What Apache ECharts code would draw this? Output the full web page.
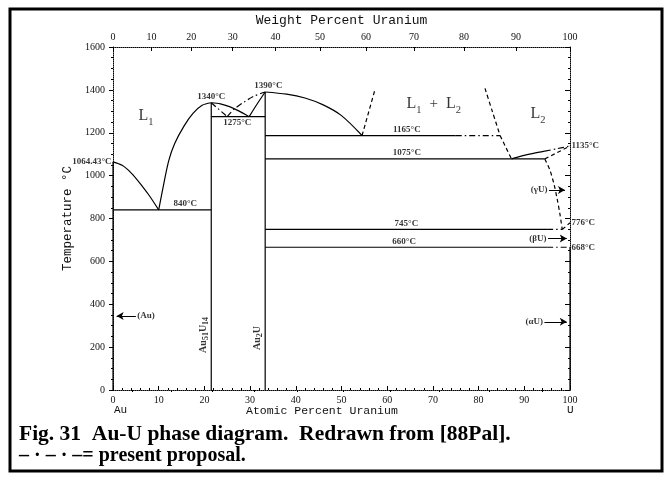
<!DOCTYPE html>
<html><head><meta charset="utf-8">
<script src="https://cdn.jsdelivr.net/npm/echarts@6/dist/echarts.min.js"></script>
<style>html,body{margin:0;padding:0;background:#fff}#c{width:668px;height:480px}</style>
</head><body><div id="c"></div>
<script>
// ---------- data ----------
const tempTicks = [0, 200, 400, 600, 800, 1000, 1200, 1400, 1600];
const atomicTicks = [0, 10, 20, 30, 40, 50, 60, 70, 80, 90, 100];
const weightTicks = [0, 10, 20, 30, 40, 50, 60, 70, 80, 90, 100];
const weightMinorTicks = [5, 15, 25, 35, 45, 55, 65, 75, 85, 95];
const M_U = 238.03, M_AU = 196.97;

// solid boundaries [88Pal]
const auLiquidus = [[0,1064.43],[2,1048],[4,1012],[6,962],[8,905],[10,840]];
const au51U14Liquidus = [[10,840],[11,950],[12.2,1070],[13.5,1150],[15.5,1230],[17.5,1290],[19.5,1328],[21.5,1340]];
const eutectic840 = [[0,840],[21.5,840]];
const au51U14Line = [[21.5,0],[21.5,1340]];
const eutectic1275 = [[21.5,1275],[33.3,1275]];
const palLiquidusA = [[21.5,1340],[23.5,1335],[25.5,1322],[27.5,1302],[29.8,1275]];
const palLiquidusB = [[29.8,1275],[31.5,1333],[33.3,1390]];
const au2ULine = [[33.3,0],[33.3,1390]];
const au2ULiquidus = [[33.3,1390],[38,1380],[42,1362],[46,1330],[50,1280],[54.5,1187]];
const monotectic = [[33.3,1187],[75,1187]];
const eutectic1075 = [[33.3,1078],[94.5,1078]];
const l2Liquidus = [[87.2,1078],[89.5,1092],[92,1104],[94.5,1114]];
const eutectoid745 = [[33.3,749],[95,749]];
const line660 = [[33.3,666],[95,666]];
const pureAu = [[0,0],[0,1064.43]];
const pureU = [[100,0],[100,666]];
// dashed boundaries
const gapLeft = [[54.5,1187],[57.4,1407]];
const gapRight = [[81.4,1407],[83,1300],[84.7,1187]];
const l2Descent = [[84.7,1187],[87.2,1078]];
const gammaSolidus = [[94.5,1078],[100,1138]];
const gammaSolvus = [[94.5,1078],[95.6,1026],[96.5,960],[97.2,890],[97.8,820],[98.3,749]];
const gammaBeta = [[98.3,749],[100,780]];
// dash-dot: present proposal
const propLiquidusA = [[21.5,1340],[25,1275]];
const propLiquidusB = [[25,1275],[26.5,1310],[28.8,1345],[31,1372],[33.3,1390]];
const propMonotectic = [[75,1187],[84.7,1187]];
const propL2Liquidus = [[94.5,1114],[97,1125],[100,1138]];
const prop745 = [[95,749],[98.3,749]];
const prop660 = [[95,666],[100,666]];

// annotations
const tempLabels = ['1064.43°C','840°C','1340°C','1275°C','1390°C','1165°C','1075°C','745°C','660°C','1135°C','776°C','668°C'];
const tempLabelAnchors = [[0,1064.43],[15.8,840],[21.5,1340],[27.2,1275],[34,1390],[64.3,1187],[64.3,1078],[64.2,749],[63.7,666],[100,1138],[100,780],[100,666]];
const phaseArrowLabels = ['(Au)','(γU)','(βU)','(αU)'];
const phaseArrowFrom = [[5,345],[95.4,933],[95.2,707],[94.4,318]];
const phaseArrowTo = [[0.8,345],[98.9,933],[99.3,707],[99.3,318]];
const regionLabels = ['L1','L1 + L2','L2'];
const regionAnchors = [[7.2,1269],[70.2,1325],[93,1278]];
const compoundLabels = ['Au51U14','Au2U'];
const compoundAnchors = [[21.5,257],[33.3,243]];

// ---------- chart ----------
const wtToAt = w => { const u = w / M_U, a = (100 - w) / M_AU; return 100 * u / (u + a); };
const atToWt = a => 100 * M_U * a / (M_U * a + M_AU * (100 - a));

const chart = echarts.init(document.getElementById('c'), null, {renderer: 'canvas'});
const BLACK = '#000';
const numFont = {fontFamily: 'Liberation Serif', fontSize: 10, color: '#111'};
const lblFont = {fontFamily: 'Liberation Serif', fontWeight: 'bold', fontSize: 9, color: BLACK};
const DASH = [4, 3];
const DASHDOT = [6, 3, 1.5, 3];

function seg(data, type, width) {
  return {
    type: 'line', data: data, symbol: 'none', silent: true, animation: false,
    smooth: data.length > 2 ? 0.3 : false,
    lineStyle: {color: BLACK, width: width || 1.2, type: type || 'solid'}
  };
}

const series = [
  seg(pureAu), seg(pureU),
  seg(auLiquidus), seg(au51U14Liquidus), seg(eutectic840), seg(au51U14Line),
  seg(eutectic1275), seg(palLiquidusA), seg(palLiquidusB), seg(au2ULine),
  seg(au2ULiquidus), seg(monotectic), seg(eutectic1075), seg(l2Liquidus),
  seg(eutectoid745), seg(line660),
  seg(gapLeft, DASH), seg(gapRight, DASH), seg(l2Descent, DASH),
  seg(gammaSolidus, DASH), seg(gammaSolvus, DASH), seg(gammaBeta, DASH),
  seg(propLiquidusA, DASHDOT), seg(propLiquidusB, DASHDOT), seg(propMonotectic, DASHDOT),
  seg(propL2Liquidus, DASHDOT), seg(prop745, DASHDOT), seg(prop660, DASHDOT)
];

// temperature labels
const tempLabelPos = ['left','top','top','bottom','top','top','top','top','top','right','right','right'];
series.push({
  type: 'scatter', symbolSize: 1, silent: true, animation: false,
  itemStyle: {color: 'rgba(0,0,0,0)'},
  data: tempLabelAnchors.map((p, i) => ({
    value: p,
    label: Object.assign({show: true, position: tempLabelPos[i], distance: 1, formatter: tempLabels[i]}, lblFont)
  }))
});

// arrows to pure-element phases
series.push({
  type: 'line', data: [], silent: true, animation: false,
  markLine: {
    silent: true, animation: false, symbol: ['none', 'arrow'], symbolSize: [6, 7],
    lineStyle: {color: BLACK, width: 1, type: 'solid'}, label: {show: false},
    data: phaseArrowFrom.map((f, i) => [{coord: f}, {coord: phaseArrowTo[i]}])
  }
});
series.push({
  type: 'scatter', symbolSize: 1, silent: true, animation: false,
  itemStyle: {color: 'rgba(0,0,0,0)'},
  data: phaseArrowFrom.map((p, i) => ({
    value: p,
    label: Object.assign({show: true, position: i === 0 ? 'right' : 'left', distance: 1, formatter: phaseArrowLabels[i]}, lblFont)
  }))
});

// phase region labels (with subscripts)
const toRich = s => s.split(' ').map(t => t === '+' ? '{p|+}' : '{b|' + t[0] + '}{s|' + t.slice(1) + '}').join('');
series.push({
  type: 'scatter', symbolSize: 1, silent: true, animation: false,
  itemStyle: {color: 'rgba(0,0,0,0)'},
  data: regionAnchors.map((p, i) => ({
    value: p,
    label: {
      show: true, position: 'inside', formatter: toRich(regionLabels[i]),
      rich: {
        b: {fontFamily: 'Liberation Serif', fontSize: 16, color: BLACK, padding: [0, 0, 4, 0], verticalAlign: 'bottom'},
        s: {fontFamily: 'Liberation Serif', fontSize: 10.5, color: BLACK, verticalAlign: 'bottom'},
        p: {fontFamily: 'Liberation Serif', fontSize: 15, color: BLACK, padding: [0, 8, 4, 8], verticalAlign: 'bottom'}
      }
    }
  }))
});

// compound labels (vertical)
const compRich = s => s.replace(/([A-Za-z]+)(\d*)/g, (m, a, d) => '{t|' + a + '}' + (d ? '{u|' + d + '}' : ''));
series.push({
  type: 'scatter', symbolSize: 1, silent: true, animation: false,
  itemStyle: {color: 'rgba(0,0,0,0)'},
  data: compoundAnchors.map((p, i) => ({
    value: p,
    label: {
      show: true, position: 'inside', rotate: 90, offset: [0, -7], formatter: compRich(compoundLabels[i]),
      rich: {
        t: {fontFamily: 'Liberation Serif', fontWeight: 'bold', fontSize: 10, color: BLACK, padding: [0, 0, 2, 0], verticalAlign: 'bottom'},
        u: {fontFamily: 'Liberation Serif', fontWeight: 'bold', fontSize: 8, color: BLACK, verticalAlign: 'bottom'}
      }
    }
  }))
});

const dotted = {show: true, onZero: false, lineStyle: {color: BLACK, width: 1, type: 'dotted'}};

const option = {
  animation: false,
  backgroundColor: '#fff',
  grid: {left: 113, top: 47, width: 457, height: 343, containLabel: false},
  xAxis: [
    {
      type: 'value', position: 'bottom', min: 0, max: 100, interval: 10,
      axisLine: dotted,
      axisTick: {show: true, inside: true, length: 4, lineStyle: {color: BLACK}},
      minorTick: {show: true, splitNumber: 5, length: 2, lineStyle: {color: BLACK}},
      axisLabel: Object.assign({margin: 5, formatter: v => atomicTicks.indexOf(v) >= 0 ? String(v) : ''}, numFont),
      splitLine: {show: false}
    },
    {
      type: 'value', position: 'top', min: 0, max: 100,
      axisLine: dotted,
      axisTick: {show: true, inside: true, length: 4, customValues: weightTicks.map(wtToAt), lineStyle: {color: BLACK}},
      axisLabel: Object.assign({margin: 5, customValues: weightTicks.map(wtToAt), formatter: v => String(Math.round(atToWt(v)))}, numFont),
      splitLine: {show: false},
      name: 'Weight Percent Uranium', nameLocation: 'middle', nameGap: 19,
      nameTextStyle: {fontFamily: 'Liberation Mono', fontSize: 13, color: '#111'}
    },
    {
      type: 'value', position: 'top', min: 0, max: 100,
      axisLine: {show: false},
      axisTick: {show: true, inside: true, length: 2, customValues: weightMinorTicks.map(wtToAt), lineStyle: {color: BLACK}},
      axisLabel: {show: false}, splitLine: {show: false}
    }
  ],
  yAxis: [
    {
      type: 'value', position: 'left', min: 0, max: 1600, interval: 200,
      axisLine: dotted,
      axisTick: {show: true, inside: false, length: 4, lineStyle: {color: BLACK}},
      minorTick: {show: true, splitNumber: 4, length: 2, lineStyle: {color: BLACK}},
      axisLabel: Object.assign({margin: 8, formatter: v => tempTicks.indexOf(v) >= 0 ? String(v) : ''}, numFont),
      splitLine: {show: false},
      name: 'Temperature °C', nameLocation: 'middle', nameGap: 38,
      nameTextStyle: {fontFamily: 'Liberation Mono', fontSize: 12.5, color: '#111'}
    },
    {
      type: 'value', position: 'right', min: 0, max: 1600, interval: 200,
      axisLine: dotted,
      axisTick: {show: true, inside: true, length: 5, lineStyle: {color: BLACK}},
      minorTick: {show: true, splitNumber: 4, length: 2, lineStyle: {color: BLACK}},
      axisLabel: {show: false}, splitLine: {show: false}
    }
  ],
  graphic: [
    {type: 'rect', shape: {x: 10, y: 9, width: 652, height: 462}, style: {fill: 'none', stroke: BLACK, lineWidth: 3}, silent: true},
    {type: 'text', left: 114, top: 405, style: {text: 'Au', font: '11px "Liberation Mono"', fill: '#111'}},
    {type: 'text', left: 567, top: 405, style: {text: 'U', font: '11px "Liberation Mono"', fill: '#111'}},
    {type: 'text', left: 246, top: 405, style: {text: 'Atomic Percent Uranium', font: '11.5px "Liberation Mono"', fill: '#111'}},
    {type: 'text', left: 19, top: 423, style: {text: 'Fig. 31  Au-U phase diagram.  Redrawn from [88Pal].', font: 'bold 21.5px "Liberation Serif"', fill: BLACK}},
    {type: 'text', left: 19, top: 446, style: {text: '– · – · –= present proposal.', font: 'bold 20px "Liberation Serif"', fill: BLACK}}
  ],
  series: series
};
chart.setOption(option);
</script>
</body></html>
